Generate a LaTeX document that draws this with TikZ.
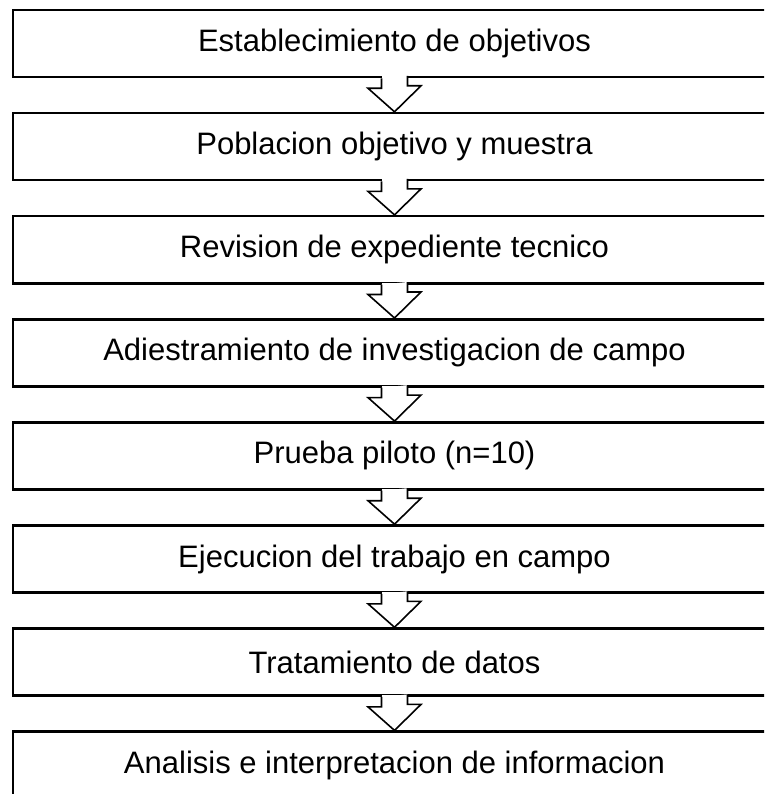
\documentclass[tikz,border=0pt]{standalone}
\usepackage{fontspec}
\setmainfont{Liberation Sans}
\begin{document}
\begin{tikzpicture}[x=1pt,y=-1pt,
  stepbox/.style={draw=black,line width=2.6pt,minimum width=763pt,minimum height=67pt,inner sep=0pt,font=\fontsize{31}{36}\selectfont},
  openarrow/.style={draw=black,line width=1.6pt,line join=miter,fill=white}]
\useasboundingbox (0,0) rectangle (764,794);
\clip (0,0) rectangle (764,794);
\fill[white] (0,0) rectangle (764,794);
\foreach \i/\t in {0/Establecimiento de objetivos,
                   1/Poblacion objetivo y muestra,
                   2/Revision de expediente tecnico,
                   3/Adiestramiento de investigacion de campo,
                   4/Prueba piloto (n=10),
                   5/Ejecucion del trabajo en campo,
                   6/Tratamiento de datos,
                   7/Analisis e interpretacion de informacion}{
  \node[stepbox] (b\i) at (394.5,{43.5+103.1*\i}) {\t};
}
\foreach \i [evaluate=\i as \j using int(\i+1)] in {0,...,6}{
  \fill[white] ([xshift=-12.2pt,yshift=2pt]b\i.south) rectangle ([xshift=12.2pt,yshift=-3pt]b\i.south);
  \path[openarrow] ([xshift=-13pt]b\i.south) -- ++(0,10) -- ++(-13.5,0) -- (b\j.north) -- ++(26.5,-26) -- ++(-13.5,0) -- ++(0,-10);
}
\end{tikzpicture}
\end{document}
